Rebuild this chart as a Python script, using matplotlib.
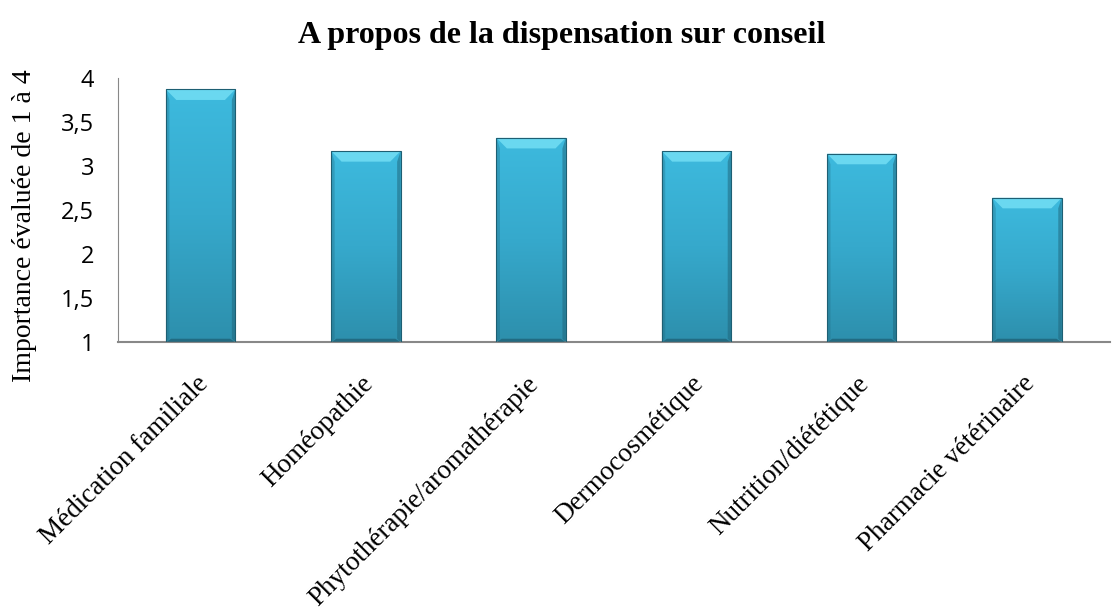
import matplotlib.pyplot as plt
import numpy as np
from matplotlib.colors import LinearSegmentedColormap
from matplotlib.patches import Polygon
from matplotlib.transforms import ScaledTranslation

categories = ['Médication familiale', 'Homéopathie', 'Phytothérapie/aromathérapie',
              'Dermocosmétique', 'Nutrition/diététique', 'Pharmacie vétérinaire']
values = [3.87, 3.17, 3.32, 3.17, 3.14, 2.64]
yticks = [1, 1.5, 2, 2.5, 3, 3.5, 4]
ytick_labels = ['1', '1,5', '2', '2,5', '3', '3,5', '4']

serif = ['Liberation Serif', 'DejaVu Serif']

fig = plt.figure(figsize=(11.13, 6.09), dpi=100)
ax = fig.add_axes([0.106, 0.438, 0.891, 0.434])

x = np.arange(len(categories))
bars = ax.bar(x, np.array(values) - 1, bottom=1, width=0.42,
              color='#3ab4d8', edgecolor='#1e5f73', linewidth=0.8, zorder=2)

# gradient fill + bevel on each bar
cmap = LinearSegmentedColormap.from_list('bar', ['#2d8fac', '#36a9cc', '#3dbade'])
grad = np.linspace(0, 1, 256).reshape(-1, 1)
for b in bars:
    x0, y0 = b.get_x(), b.get_y()
    w, h = b.get_width(), b.get_height()
    im = ax.imshow(grad, cmap=cmap, origin='lower', aspect='auto',
                   extent=(x0, x0 + w, y0, y0 + h), zorder=2.5)
    im.set_clip_path(b)
    bh = 0.12
    bw = w * 0.15
    top = Polygon([(x0, y0 + h), (x0 + w, y0 + h), (x0 + w - bw, y0 + h - bh), (x0 + bw, y0 + h - bh)],
                  closed=True, facecolor='#6ad8f0', edgecolor='none', zorder=3)
    ax.add_patch(top)
    bot = Polygon([(x0, y0), (x0 + w, y0), (x0 + w - bw * 0.5, y0 + 0.04), (x0 + bw * 0.5, y0 + 0.04)],
                  closed=True, facecolor='#1f6378', edgecolor='none', alpha=0.8, zorder=3)
    ax.add_patch(bot)
    side_r = Polygon([(x0 + w, y0), (x0 + w - w * 0.05, y0 + 0.04), (x0 + w - w * 0.05, y0 + h - bh),
                      (x0 + w, y0 + h)],
                     closed=True, facecolor='#1f6378', edgecolor='none', alpha=0.5, zorder=3)
    ax.add_patch(side_r)
    side_l = Polygon([(x0, y0), (x0 + w * 0.05, y0 + 0.04), (x0 + w * 0.05, y0 + h - bh), (x0, y0 + h)],
                     closed=True, facecolor='#1f6378', edgecolor='none', alpha=0.3, zorder=3)
    ax.add_patch(side_l)
    b.set_zorder(3.5)
    b.set_facecolor('none')

ax.set_xlim(-0.5, len(categories) - 0.5)
ax.set_ylim(1, 4)
ax.set_yticks(yticks)
ax.set_yticklabels(ytick_labels, fontsize=17, family=['Open Sans', 'DejaVu Sans'])
ax.set_xticks(x)
ax.set_xticklabels(categories, rotation=45, ha='right', va='top', rotation_mode='anchor',
                   fontsize=19.5, family=serif)
ax.tick_params(axis='y', length=0, pad=17)
ax.tick_params(axis='x', length=0, pad=21)
shift = ScaledTranslation(-5 / 100, 0, fig.dpi_scale_trans)
for lbl in ax.get_xticklabels():
    lbl.set_transform(lbl.get_transform() + shift)

for s in ['top', 'right']:
    ax.spines[s].set_visible(False)
ax.spines['left'].set_color('#888888')
ax.spines['bottom'].set_color('#888888')
ax.spines['bottom'].set_linewidth(1.5)

ax.set_ylabel('Importance évaluée de 1 à 4', fontsize=20, family=serif)
ax.yaxis.set_label_coords(-0.082, 0.44)
fig.suptitle('A propos de la dispensation sur conseil', fontsize=23, fontweight='bold',
             family=serif, x=0.505, y=0.965)

fig.savefig('out.png', dpi=100)
